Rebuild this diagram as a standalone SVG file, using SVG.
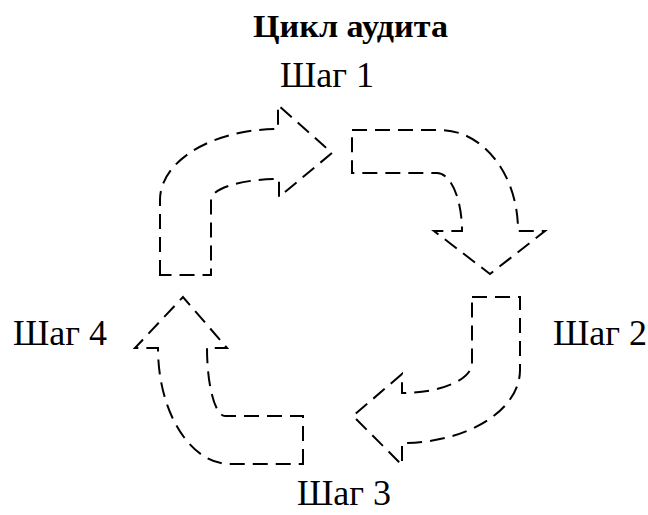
<svg xmlns="http://www.w3.org/2000/svg" width="648" height="515" viewBox="0 0 648 515">
  <style>
    .bg { fill: #ffffff; }
    .title { font-family: "Liberation Serif", "Times New Roman", serif; font-size: 31px; font-weight: bold; fill: #000000; }
    .label { font-family: "Liberation Serif", "Times New Roman", serif; font-size: 36px; fill: #000000; }
    .arrow { fill: none; stroke: #000000; stroke-width: 2; stroke-dasharray: 15 8; stroke-linejoin: miter; }
  </style>
  <rect class="bg" x="0" y="0" width="648" height="515"/>

  <text class="title" x="253" y="37" textLength="195" lengthAdjust="spacingAndGlyphs">Цикл аудита</text>

  <g id="step1">
    <text class="label" x="280" y="87">Шаг 1</text>
  </g>
  <g id="step2">
    <text class="label" x="553" y="345">Шаг 2</text>
  </g>
  <g id="step3">
    <text class="label" x="297" y="505">Шаг 3</text>
  </g>
  <g id="step4">
    <text class="label" x="13" y="345">Шаг 4</text>
  </g>

  <g id="connectors">
    <!-- arrow from step 4 to step 1 (top left) -->
    <path class="arrow" d="M160,275 L160,200 C160,160.8 212.8,129 278,129 L278,105 L332,153 L279,197 L279,179 C241.4,179 211,188.4 211,200 L211,275 Z"/>
    <!-- arrow from step 1 to step 2 (top right) -->
    <path class="arrow" d="M352,130 L440,130 C483.1,130 518,174.8 518,230 L518,231 L545,231 L490,274 L434,231 L462,231 C462,199 450.8,173 437,173 L352,173 Z"/>
    <!-- arrow from step 2 to step 3 (bottom right) -->
    <path class="arrow" d="M472,297 L520,297 L520,370 C520,410.3 467.2,443 402,443 L402,465 L353,416 L402,374 L402,393 C440.7,393 472,379.6 472,363 L472,297 Z"/>
    <!-- arrow from step 3 to step 4 (bottom left) -->
    <path class="arrow" d="M303,464 L303,416 L225,416 C215.1,416 207,385.6 207,348 L227,348 L183,297 L135,348 L158,348 C158,412.1 190.2,464 230,464 L303,464 Z"/>
  </g>
</svg>
